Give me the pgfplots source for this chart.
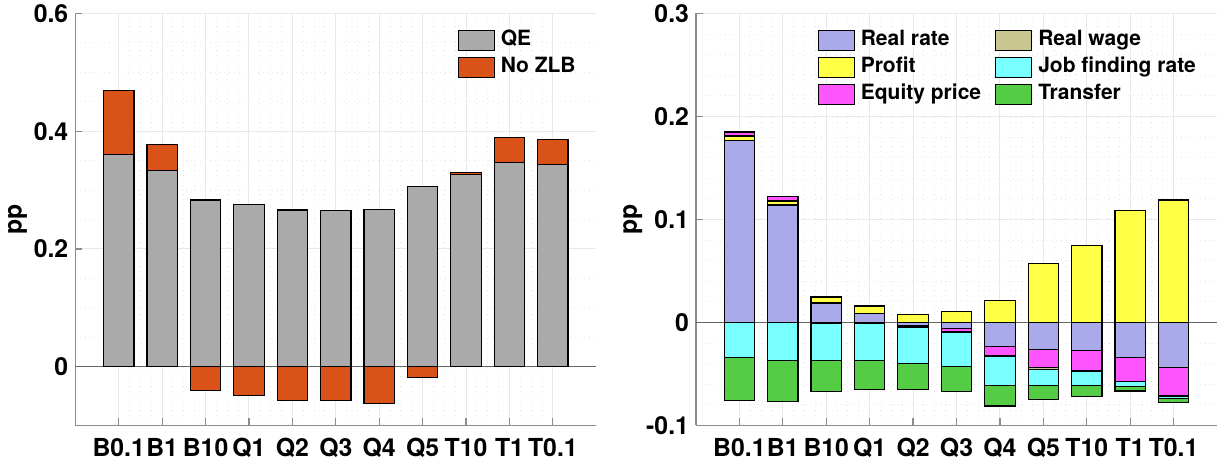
\documentclass[border=0pt]{standalone}
\usepackage{pgfplots}
\pgfplotsset{compat=1.18}
\usepackage{fontspec}
\setmainfont{TeX Gyre Heros}

\definecolor{qe}{RGB}{170,170,170}
\definecolor{nozlb}{RGB}{217,83,25}
\definecolor{rrate}{RGB}{170,170,234}
\definecolor{profit}{RGB}{255,255,70}
\definecolor{equity}{RGB}{255,85,255}
\definecolor{rwage}{RGB}{201,198,143}
\definecolor{jobf}{RGB}{120,255,255}
\definecolor{transf}{RGB}{85,204,70}

\pgfplotsset{
  mylegend/.style={legend image code/.code={\draw[##1,draw=black,line width=0.6pt] (0pt,-5pt) rectangle (18pt,5pt);}},
  panel/.style={
    scale only axis, width=260.5pt, height=206pt, anchor=south west,
    xmin=0, xmax=12, ybar stacked, bar width=0.7,
    xtick={1,...,11}, xticklabels={B0.1,B1,B10,Q1,Q2,Q3,Q4,Q5,T10,T1,T0.1},
    every axis plot post/.append style={mylegend},
  },
  frame/.style={
    axis x line*=bottom, axis y line*=left,
    axis line style={black!45, line width=0.6pt},
    tick align=inside, tick style={black!45, line width=0.6pt},
    major tick length=3.5pt, minor tick length=0pt,
    grid=both, major grid style={black!9, line width=0.5pt},
    minor grid style={black!9, dotted, line width=0.5pt},
    minor x tick num=3,
    ticklabel style={font=\fontsize{12.4}{14}\selectfont\bfseries},
    /pgf/number format/assume math mode=true,
    xticklabel style={yshift=-3pt},
    extra y ticks={0}, extra y tick labels={},
    extra y tick style={grid=major, major grid style={black!60, solid, line width=0.5pt}, major tick length=0pt},
    ylabel={pp}, ylabel style={font=\fontsize{12.4}{14}\selectfont\bfseries, anchor=center},
    legend cell align=left,
    legend style={draw=none, fill=none, anchor=north west, inner sep=0pt,
      font=\fontsize{10.5}{12}\selectfont\bfseries,
      nodes={text height=7.6pt, text depth=2.2pt, inner ysep=1.85pt, inner xsep=3pt},
      /tikz/every even column/.append style={column sep=4pt}},
  },
  bars/.style={draw=black, line width=0.6pt},
}

\begin{document}
\begin{tikzpicture}
\useasboundingbox (0,0) rectangle (612.5pt,232pt);

% left panel: positive parts
\begin{axis}[panel, frame, at={(37.65pt,19.25pt)},
  ymin=-0.1, ymax=0.6, ytick={0,0.2,0.4,0.6}, minor y tick num=3,
  ylabel style={at={(axis description cs:-0.111,0.5)}},
  legend style={at={(rel axis cs:0.733,0.968)}}]
\addplot[bars, fill=qe] coordinates {(1,0.360) (2,0.333) (3,0.283) (4,0.276) (5,0.266) (6,0.265) (7,0.267) (8,0.306) (9,0.326) (10,0.347) (11,0.344)};
\addlegendentry{QE}
\addplot[bars, fill=nozlb] coordinates {(1,0.109) (2,0.044) (3,0) (4,0) (5,0) (6,0) (7,0) (8,0) (9,0.004) (10,0.042) (11,0.042)};
\addlegendentry{No ZLB}
\end{axis}
% left panel: negative parts
\begin{axis}[panel, hide axis, at={(37.65pt,19.25pt)}, ymin=-0.1, ymax=0.6]
\addplot[bars, fill=nozlb] coordinates {(3,-0.041) (4,-0.049) (5,-0.057) (6,-0.057) (7,-0.062) (8,-0.018)};
\end{axis}

% right panel: positive parts
\begin{axis}[panel, frame, at={(348pt,19.25pt)},
  ymin=-0.1, ymax=0.3, ytick={-0.1,0,0.1,0.2,0.3}, minor y tick num=4,
  ylabel style={at={(axis description cs:-0.1216,0.5)}},
  legend columns=2,
  legend style={at={(rel axis cs:0.2326,0.968)}}]
\addplot[bars, fill=rrate, forget plot] coordinates {(1,0.177) (2,0.114) (3,0.019) (4,0.009) (5,0) (6,0) (7,0) (8,0) (9,0) (10,0) (11,0)};
\addplot[bars, fill=profit, forget plot] coordinates {(1,0.004) (2,0.004) (3,0.005) (4,0.007) (5,0.008) (6,0.011) (7,0.021) (8,0.057) (9,0.075) (10,0.109) (11,0.119)};
\addplot[bars, fill=equity, forget plot] coordinates {(1,0.004) (2,0.004) (3,0.001) (4,0.0005) (5,0) (6,0) (7,0) (8,0) (9,0) (10,0) (11,0)};
\addlegendimage{bars, fill=rrate, mylegend}
\addlegendentry{Real rate}
\addlegendimage{bars, fill=rwage, mylegend}
\addlegendentry{Real wage}
\addlegendimage{bars, fill=profit, mylegend}
\addlegendentry{Profit}
\addlegendimage{bars, fill=jobf, mylegend}
\addlegendentry{Job finding rate}
\addlegendimage{bars, fill=equity, mylegend}
\addlegendentry{Equity price}
\addlegendimage{bars, fill=transf, mylegend}
\addlegendentry{Transfer}
\end{axis}
% right panel: negative parts
\begin{axis}[panel, hide axis, at={(348pt,19.25pt)}, ymin=-0.1, ymax=0.3]
\addplot[bars, fill=rrate] coordinates {(1,0) (2,0) (3,0) (4,0) (5,-0.003) (6,-0.006) (7,-0.023) (8,-0.026) (9,-0.027) (10,-0.034) (11,-0.044)};
\addplot[bars, fill=equity] coordinates {(1,0) (2,0) (3,0) (4,0) (5,-0.001) (6,-0.003) (7,-0.009) (8,-0.018) (9,-0.020) (10,-0.023) (11,-0.027)};
\addplot[bars, fill=rwage] coordinates {(1,0) (2,0) (3,-0.001) (4,-0.001) (5,-0.001) (6,-0.001) (7,-0.001) (8,-0.0015) (9,-0.0005) (10,-0.0005) (11,-0.0005)};
\addplot[bars, fill=jobf] coordinates {(1,-0.034) (2,-0.037) (3,-0.036) (4,-0.036) (5,-0.035) (6,-0.033) (7,-0.028) (8,-0.016) (9,-0.014) (10,-0.005) (11,-0.002)};
\addplot[bars, fill=transf] coordinates {(1,-0.042) (2,-0.040) (3,-0.030) (4,-0.028) (5,-0.025) (6,-0.024) (7,-0.020) (8,-0.013) (9,-0.010) (10,-0.004) (11,-0.004)};
\end{axis}
\end{tikzpicture}
\end{document}
